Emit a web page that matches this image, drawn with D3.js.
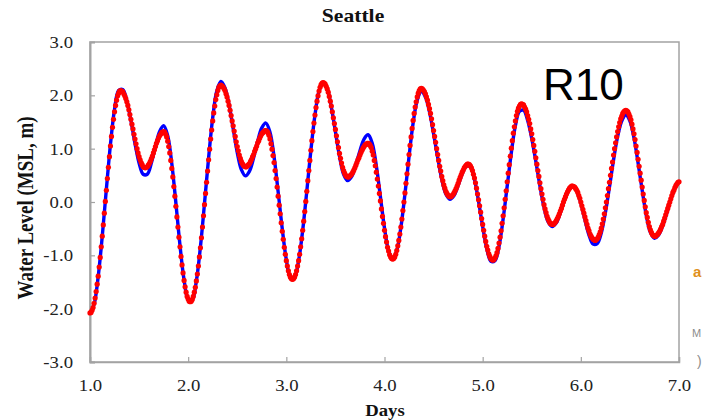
<!DOCTYPE html>
<html>
<head>
<meta charset="utf-8">
<script src="https://cdn.jsdelivr.net/npm/d3@7/dist/d3.min.js"></script>
<style>
  body { margin: 0; background: #fff; }
  svg { display: block; }
</style>
</head>
<body>
<svg id="chart" width="703" height="420"></svg>
<script>
// Seattle water level (MSL, m), days 1.0 – 7.0

// Observed record, hourly samples starting at day 1.0
const observedStepHours = 1;
const observed = [
  -2.10,-1.92,-1.40,-0.64,0.24,1.08,1.74,2.09,
  2.11,1.90,1.53,1.10,0.73,0.52,
  0.52,0.73,1.04,1.32,1.43,
  1.24,0.72,-0.02,-0.81,-1.46,-1.82,
  -1.83,-1.48,-0.84,-0.02,0.83,1.58,2.08,2.26,
  2.14,1.82,1.38,0.93,0.61,0.49,
  0.58,0.83,1.14,1.39,1.48,
  1.31,0.85,0.19,-0.50,-1.08,-1.41,
  -1.41,-1.10,-0.53,0.20,0.97,1.63,2.08,2.24,
  2.12,1.78,1.32,0.86,0.52,0.40,
  0.48,0.70,0.96,1.18,1.26,
  1.10,0.68,0.10,-0.49,-0.91,-1.07,
  -0.91,-0.48,0.15,0.85,1.48,1.91,2.07,
  1.97,1.69,1.28,0.84,0.43,0.15,0.05,
  0.12,0.31,0.53,0.67,
  0.66,0.42,0.01,-0.46,-0.87,-1.11,
  -1.10,-0.83,-0.32,0.30,0.92,1.43,1.70,
  1.72,1.53,1.19,0.76,0.30,-0.10,-0.37,
  -0.46,-0.39,-0.20,0.04,0.23,0.30,
  0.21,-0.02,-0.33,-0.62,-0.79,
  -0.78,-0.58,-0.20,0.28,0.79,1.23,1.52,1.63,
  1.52,1.20,0.73,0.22,-0.25,-0.57,-0.68,
  -0.62,-0.45,-0.21,0.05,0.26,0.38
];

// Model output, 15-minute samples starting at day 1.0
const modeledStepHours = 0.25;
const modeled = [
  -2.08,-2.07,-2.03,-1.98,-1.90,-1.80,-1.68,-1.54,-1.39,-1.22,-1.04,-0.84,-0.64,-0.43,-0.21,0.01,0.22,0.44,0.65,0.85,1.05,1.23,1.40,1.55,1.69,1.81,1.91,1.99,2.04,2.08,2.09,
  2.08,2.07,2.03,1.99,1.94,1.88,1.81,1.73,1.64,1.55,1.46,1.37,1.27,1.18,1.09,1.00,0.92,0.85,0.79,0.74,0.70,0.66,0.65,0.64,
  0.65,0.66,0.69,0.72,0.76,0.81,0.86,0.92,0.98,1.04,1.10,1.15,1.20,1.24,1.27,1.30,1.31,1.32,
  1.31,1.27,1.22,1.14,1.04,0.92,0.78,0.63,0.47,0.29,0.11,-0.08,-0.28,-0.47,-0.66,-0.84,-1.02,-1.18,-1.33,-1.47,-1.59,-1.69,-1.77,-1.82,-1.86,-1.87,
  -1.86,-1.83,-1.77,-1.69,-1.60,-1.48,-1.35,-1.20,-1.03,-0.86,-0.67,-0.47,-0.26,-0.05,0.16,0.37,0.58,0.79,0.99,1.18,1.35,1.52,1.67,1.80,1.92,2.01,2.09,2.15,2.18,2.19,
  2.18,2.16,2.13,2.09,2.03,1.97,1.89,1.81,1.72,1.62,1.52,1.43,1.33,1.23,1.13,1.04,0.96,0.88,0.82,0.76,0.72,0.69,0.67,0.66,
  0.66,0.68,0.70,0.72,0.76,0.80,0.85,0.89,0.95,1.00,1.05,1.11,1.15,1.20,1.24,1.28,1.30,1.32,1.34,1.34,
  1.33,1.30,1.25,1.18,1.09,0.99,0.87,0.74,0.59,0.44,0.28,0.11,-0.06,-0.22,-0.39,-0.55,-0.70,-0.85,-0.98,-1.10,-1.20,-1.29,-1.36,-1.41,-1.44,-1.45,
  -1.44,-1.41,-1.36,-1.29,-1.20,-1.10,-0.98,-0.84,-0.69,-0.53,-0.36,-0.18,0.01,0.20,0.40,0.59,0.78,0.97,1.15,1.32,1.48,1.63,1.77,1.89,1.99,2.08,2.15,2.20,2.23,2.24,
  2.23,2.21,2.17,2.12,2.06,1.98,1.89,1.80,1.69,1.58,1.47,1.36,1.24,1.13,1.02,0.91,0.82,0.73,0.65,0.59,0.54,0.50,0.48,0.47,
  0.47,0.49,0.50,0.53,0.56,0.60,0.64,0.69,0.74,0.79,0.83,0.88,0.93,0.97,1.01,1.04,1.07,1.08,1.10,1.10,
  1.09,1.06,1.02,0.95,0.88,0.78,0.68,0.56,0.43,0.30,0.16,0.02,-0.13,-0.27,-0.40,-0.53,-0.65,-0.75,-0.85,-0.92,-0.99,-1.03,-1.06,-1.07,
  -1.06,-1.03,-0.98,-0.91,-0.82,-0.72,-0.60,-0.47,-0.32,-0.16,0.00,0.17,0.35,0.53,0.71,0.89,1.06,1.22,1.38,1.53,1.66,1.78,1.88,1.97,2.04,2.09,2.12,2.13,
  2.12,2.10,2.07,2.03,1.97,1.91,1.83,1.75,1.66,1.56,1.45,1.34,1.23,1.12,1.00,0.89,0.78,0.67,0.58,0.48,0.40,0.32,0.26,0.20,0.16,0.13,0.11,0.10,
  0.10,0.12,0.14,0.17,0.21,0.25,0.30,0.35,0.41,0.46,0.51,0.56,0.60,0.64,0.67,0.69,0.71,0.71,
  0.70,0.68,0.64,0.59,0.52,0.45,0.36,0.26,0.15,0.04,-0.07,-0.19,-0.31,-0.42,-0.53,-0.64,-0.74,-0.83,-0.90,-0.97,-1.02,-1.06,-1.08,-1.09,
  -1.08,-1.05,-1.01,-0.95,-0.87,-0.77,-0.66,-0.54,-0.40,-0.26,-0.11,0.05,0.21,0.38,0.54,0.70,0.86,1.01,1.15,1.29,1.41,1.52,1.62,1.70,1.76,1.80,1.83,1.84,
  1.83,1.82,1.78,1.74,1.69,1.62,1.55,1.47,1.37,1.28,1.17,1.06,0.95,0.83,0.71,0.59,0.48,0.36,0.25,0.15,0.05,-0.05,-0.13,-0.20,-0.27,-0.32,-0.36,-0.40,-0.41,-0.42,
  -0.42,-0.40,-0.38,-0.35,-0.31,-0.27,-0.22,-0.17,-0.12,-0.06,0.00,0.05,0.10,0.15,0.19,0.23,0.26,0.28,0.30,0.30,
  0.29,0.28,0.25,0.22,0.18,0.12,0.07,0.00,-0.07,-0.14,-0.21,-0.28,-0.35,-0.42,-0.49,-0.54,-0.60,-0.64,-0.67,-0.70,-0.71,-0.72,
  -0.71,-0.69,-0.66,-0.61,-0.56,-0.49,-0.41,-0.32,-0.22,-0.11,0.00,0.12,0.25,0.37,0.50,0.63,0.75,0.88,1.00,1.11,1.22,1.32,1.41,1.49,1.56,1.61,1.66,1.69,1.71,1.72,
  1.71,1.69,1.65,1.60,1.54,1.46,1.37,1.28,1.17,1.05,0.93,0.80,0.67,0.54,0.41,0.28,0.15,0.03,-0.09,-0.20,-0.29,-0.38,-0.46,-0.52,-0.57,-0.61,-0.63,-0.64,
  -0.64,-0.62,-0.61,-0.58,-0.55,-0.51,-0.46,-0.42,-0.36,-0.30,-0.24,-0.18,-0.12,-0.06,0.00,0.06,0.12,0.18,0.22,0.27,0.31,0.34,0.37,0.38
];

const startDay = 1.0;
const xTicks = [1, 2, 3, 4, 5, 6, 7];
const yTicks = [-3, -2, -1, 0, 1, 2, 3];
const chartTitle = "Seattle";
const xTitle = "Days";
const yTitle = "Water Level (MSL, m)";
const runLabel = "R10";

// ---- layout ----
const W = 703, H = 420;
const plot = { left: 90, right: 679, top: 42, bottom: 362 };
const serif = "'Liberation Serif', 'Times New Roman', serif";
const sans = "'Liberation Sans', Arial, sans-serif";
const stretch = 1.17;          // the serif lettering is set slightly wide
const axisGrey = "#a3a3a3";

const svg = d3.select("#chart");
svg.append("rect").attr("width", W).attr("height", H).attr("fill", "#fff");

const x = d3.scaleLinear().domain([1, 7]).range([plot.left, plot.right]);
const y = d3.scaleLinear().domain([-3, 3]).range([plot.bottom, plot.top]);

const obsPts = observed.map((v, i) => ({ t: startDay + i * observedStepHours / 24, v }));
const modPts = modeled.map((v, i) => ({ t: startDay + i * modeledStepHours / 24, v }));

// ---- frame ----
svg.append("rect")
  .attr("x", plot.left).attr("y", plot.top)
  .attr("width", plot.right - plot.left).attr("height", plot.bottom - plot.top)
  .attr("fill", "none").attr("stroke", axisGrey).attr("stroke-width", 1.5);

// ---- axes ----
const yAxis = d3.axisLeft(y).tickValues(yTicks).tickSize(-5).tickPadding(0)
  .tickFormat(d => d.toFixed(1));
const gy = svg.append("g").attr("transform", `translate(${plot.left},0)`).call(yAxis);
gy.select(".domain").attr("stroke", axisGrey).attr("stroke-width", 2);
gy.selectAll(".tick line").attr("stroke", axisGrey).attr("stroke-width", 1.2);
gy.selectAll(".tick text")
  .attr("x", 0).attr("dy", "0.34em")
  .attr("transform", `translate(-17,0) scale(${stretch},1)`)
  .attr("font-family", serif).attr("font-size", 16).attr("fill", "#222");

const xAxis = d3.axisBottom(x).tickValues(xTicks).tickSize(-5).tickPadding(0)
  .tickFormat(d => d.toFixed(1));
const gx = svg.append("g").attr("transform", `translate(0,${plot.bottom})`).call(xAxis);
gx.select(".domain").attr("stroke", axisGrey).attr("stroke-width", 1.5);
gx.selectAll(".tick line").attr("stroke", axisGrey).attr("stroke-width", 1.2);
gx.selectAll(".tick text")
  .attr("y", 0).attr("dy", "0.71em")
  .attr("transform", `translate(0,18) scale(${stretch},1)`)
  .attr("font-family", serif).attr("font-size", 16).attr("fill", "#222");
svg.selectAll(".domain").attr("fill", "none");

// ---- titles ----
svg.append("text")
  .attr("transform", `translate(353,22) scale(${stretch},1)`)
  .attr("text-anchor", "middle")
  .attr("font-family", serif).attr("font-weight", "bold").attr("font-size", 18.5)
  .attr("fill", "#111").text(chartTitle);

svg.append("text")
  .attr("transform", `translate(385,416) scale(${stretch},1)`)
  .attr("text-anchor", "middle")
  .attr("font-family", serif).attr("font-weight", "bold").attr("font-size", 16)
  .attr("fill", "#111").text(xTitle);

svg.append("text")
  .attr("transform", `translate(33,208) scale(${stretch},1) rotate(-90)`)
  .attr("text-anchor", "middle")
  .attr("font-family", serif).attr("font-weight", "bold").attr("font-size", 19)
  .attr("fill", "#111").text(yTitle);

// ---- series ----
svg.append("clipPath").attr("id", "plotClip")
  .append("rect").attr("x", plot.left - 4).attr("y", plot.top - 4)
  .attr("width", plot.right - plot.left + 8).attr("height", plot.bottom - plot.top + 8);

const series = svg.append("g").attr("clip-path", "url(#plotClip)");

series.append("path")
  .datum(obsPts)
  .attr("fill", "none")
  .attr("stroke", "#0000ff")
  .attr("stroke-width", 3.4)
  .attr("stroke-linejoin", "round")
  .attr("d", d3.line().x(d => x(d.t)).y(d => y(d.v)).curve(d3.curveCatmullRom.alpha(0.5)));

series.selectAll("circle.model")
  .data(modPts)
  .join("circle")
  .attr("class", "model")
  .attr("cx", d => x(d.t))
  .attr("cy", d => y(d.v))
  .attr("r", 2.6)
  .attr("fill", "#ff0000");

// ---- run label ----
svg.append("text")
  .attr("x", 543).attr("y", 100)
  .attr("font-family", sans).attr("font-size", 44)
  .attr("fill", "#000").text(runLabel);

// ---- lettering from the neighbouring panel at the right edge ----
svg.append("text").attr("x", 693).attr("y", 277)
  .attr("font-family", sans).attr("font-size", 15).attr("font-weight", "bold")
  .attr("fill", "#e09020").text("a");
svg.append("text").attr("x", 692).attr("y", 337)
  .attr("font-family", sans).attr("font-size", 11)
  .attr("fill", "#8c8c8c").text("M");
svg.append("text").attr("x", 697).attr("y", 366)
  .attr("font-family", sans).attr("font-size", 14)
  .attr("fill", "#8c8c8c").text(")");
</script>
</body>
</html>
